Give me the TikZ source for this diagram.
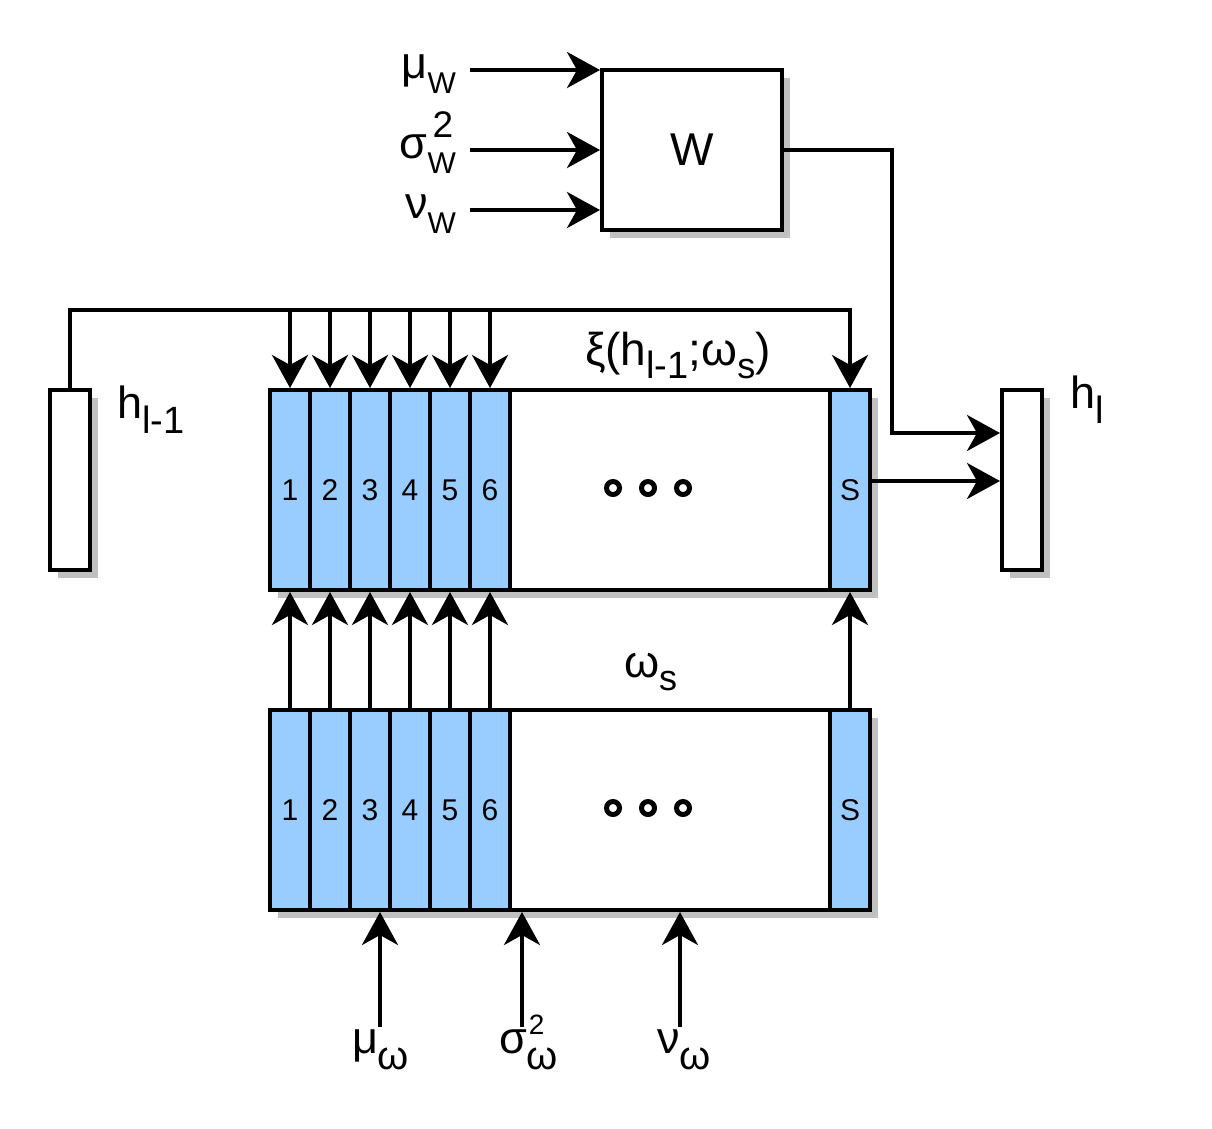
\documentclass[tikz,border=0pt]{standalone}
\usepackage{fontspec}
\setmainfont{Liberation Sans}
\usetikzlibrary{arrows.meta,shadows}
\definecolor{cellblue}{HTML}{99CCFF}
\definecolor{shgray}{HTML}{C0C0C0}
\newcommand\mysub[2][30]{\raisebox{-15pt}{\fontsize{#1}{#1}\selectfont #2}}
\newcommand\mysup[3][37]{\rlap{\kern5pt\raisebox{#2}{\fontsize{#1}{#1}\selectfont #3}}}
\begin{document}
\begin{tikzpicture}[x=1pt,y=-1pt,line width=4pt,
  box/.style={draw=black, fill=white, line width=4pt, inner sep=0pt,
    general shadow={fill=shgray, shadow xshift=8pt, shadow yshift=-8pt}},
  cell/.style={draw=black, fill=cellblue, line width=4pt, minimum width=40pt,
    minimum height=200pt, inner sep=0pt, font=\fontsize{30}{30}\selectfont},
  arr/.style={-{Stealth[length=33pt,width=36pt,inset=10pt]}, line width=4pt},
  lbl/.style={inner sep=0pt, font=\fontsize{45}{45}\selectfont},
  dot/.style={line width=5pt}]
\useasboundingbox (0,0) rectangle (1212,1128);
% W box
\node[box, minimum width=180pt, minimum height=160pt, font=\fontsize{46}{46}\selectfont] (W) at (692,150) {W};
% h boxes
\node[box, minimum width=40pt, minimum height=180pt] (hprev) at (70,480) {};
\node[box, minimum width=40pt, minimum height=180pt] (hl) at (1022,480) {};
% top and bottom big boxes
\node[box, minimum width=600pt, minimum height=200pt] (top) at (570,490) {};
\node[box, minimum width=600pt, minimum height=200pt] (bot) at (570,810) {};
\foreach \i in {1,...,6}{
  \node[cell] (c\i) at ({250+40*\i},490) {\i};
  \node[cell] (d\i) at ({250+40*\i},810) {\i};
}
\node[cell] (cS) at (850,490) {S};
\node[cell] (dS) at (850,810) {S};
\foreach \x in {613,648,683}{
  \draw[dot] (\x,488) circle (6.5pt);
  \draw[dot] (\x,808) circle (6.5pt);
}
% labels
\node[lbl, anchor=base east] (Lmu) at (458,78) {μ\mysub{W}};
\node[lbl, anchor=base east] (Lsig) at (458,158) {σ\mysup{21pt}{2}\mysub{W}};
\node[lbl, anchor=base east] (Lnu) at (458,218) {ν\mysub{W}};
\node[lbl, anchor=base west] (Lhp) at (115,418) {h\mysub[38]{l-1}};
\node[lbl, anchor=base west] (Lhl) at (1068,408) {h\mysub[38]{l}};
\node[inner sep=0pt, anchor=base west, font=\fontsize{46}{46}\selectfont] (Lxi) at (583,365)
  {ξ(h\raisebox{-13pt}{\fontsize{38}{38}\selectfont l-1};ω\raisebox{-13pt}{\fontsize{36}{36}\selectfont s})};
\node[lbl, anchor=base west] (Lom) at (622,677) {ω\raisebox{-13pt}{\fontsize{36}{36}\selectfont s}};
\node[lbl, anchor=base west] (Lmuo) at (350,1053) {μ\raisebox{-16pt}{\fontsize{40}{40}\selectfont ω}};
\node[lbl, anchor=base west] (Lsigo) at (497,1053) {σ\rlap{\kern2pt\raisebox{19pt}{\fontsize{28}{28}\selectfont 2}}\raisebox{-16pt}{\fontsize{40}{40}\selectfont ω}};
\node[lbl, anchor=base west] (Lnuo) at (655,1053) {ν\raisebox{-16pt}{\fontsize{40}{40}\selectfont ω}};
% W inputs
\coordinate (imu) at (470,70);
\coordinate (isig) at (470,150);
\coordinate (inu) at (470,210);
\draw[arr] (imu) -- (imu -| W.west);
\draw[arr] (isig) -- (isig -| W.west);
\draw[arr] (inu) -- (inu -| W.west);
% W output
\coordinate (wturn) at (892,433);
\draw[arr] (W.east) -| (wturn) -- (wturn -| hl.west);
% S output
\draw[arr] ([yshift=9pt]cS.east) -- ([yshift=9pt]cS.east -| hl.west);
% bus from h_{l-1}
\coordinate (bus) at (850,310);
\draw[arr] (hprev.north) |- (bus) -- (cS.north);
\foreach \i in {1,...,6}{
  \draw[arr] (c\i.north |- bus) -- (c\i.north);
  \draw[arr] (d\i.north) -- (c\i.south);
}
\draw[arr] (dS.north) -- (cS.south);
% bottom inputs
\coordinate (bmu) at (380,1027);
\coordinate (bsig) at (522,1027);
\coordinate (bnu) at (680,1027);
\draw[arr] (bmu) -- (bmu |- bot.south);
\draw[arr] (bsig) -- (bsig |- bot.south);
\draw[arr] (bnu) -- (bnu |- bot.south);
\end{tikzpicture}
\end{document}
